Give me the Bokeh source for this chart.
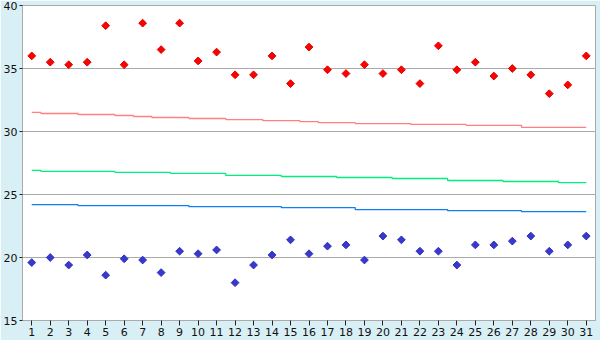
import math
from bokeh.plotting import figure
from bokeh.models import Range1d, FixedTicker
from bokeh.embed import file_html
from bokeh.resources import INLINE

days = list(range(1, 32))
day_labels = [str(d) for d in days]

high_obs = [36.0, 35.5, 35.3, 35.5, 38.4, 35.3, 38.6, 36.5, 38.6, 35.6,
            36.3, 34.5, 34.5, 36.0, 33.8, 36.7, 34.9, 34.6, 35.3, 34.6,
            34.9, 33.8, 36.8, 34.9, 35.5, 34.4, 35.0, 34.5, 33.0, 33.7, 36.0]
low_obs = [19.6, 20.0, 19.4, 20.2, 18.6, 19.9, 19.8, 18.8, 20.5, 20.3,
           20.6, 18.0, 19.4, 20.2, 21.4, 20.3, 20.9, 21.0, 19.8, 21.7,
           21.4, 20.5, 20.5, 19.4, 21.0, 21.0, 21.3, 21.7, 20.5, 21.0, 21.7]
high_normal = [31.51, 31.43, 31.43, 31.35, 31.35, 31.27, 31.19, 31.11, 31.11, 31.03,
               31.03, 30.95, 30.95, 30.87, 30.87, 30.79, 30.71, 30.71, 30.63, 30.63,
               30.63, 30.56, 30.56, 30.56, 30.48, 30.48, 30.48, 30.32, 30.32, 30.32, 30.32]
mean_normal = [26.91, 26.83, 26.83, 26.83, 26.83, 26.75, 26.75, 26.75, 26.67, 26.67,
               26.67, 26.51, 26.51, 26.51, 26.43, 26.43, 26.43, 26.35, 26.35, 26.35,
               26.27, 26.27, 26.27, 26.11, 26.11, 26.11, 26.03, 26.03, 26.03, 25.95, 25.95]
low_normal = [24.20, 24.20, 24.20, 24.12, 24.12, 24.12, 24.12, 24.12, 24.12, 24.04,
              24.04, 24.04, 24.04, 24.04, 23.96, 23.96, 23.96, 23.96, 23.80, 23.80,
              23.80, 23.80, 23.80, 23.72, 23.72, 23.72, 23.72, 23.64, 23.64, 23.64, 23.64]
y_ticks = [15, 20, 25, 30, 35, 40]

BG = "#d9eff6"
GRID = "#aaaaaa"

p = figure(width=600, height=340, output_backend="svg", toolbar_location=None,
           x_range=Range1d(0.5, 31.5), y_range=Range1d(15, 40),
           min_border_left=20, min_border_right=5, min_border_top=5, min_border_bottom=20)
p.border_fill_color = BG
p.background_fill_color = "white"
p.outline_line_color = GRID
p.outline_line_width = 1

p.xgrid.visible = False
p.ygrid.grid_line_color = GRID
p.ygrid.grid_line_width = 1
p.ygrid.ticker = FixedTicker(ticks=y_ticks)

p.xaxis.ticker = FixedTicker(ticks=days)
p.xaxis.major_label_overrides = {d: s for d, s in zip(days, day_labels)}
p.yaxis.ticker = FixedTicker(ticks=y_ticks)
for ax in (p.xaxis[0], p.yaxis[0]):
    ax.axis_line_color = GRID
    ax.major_tick_line_color = "#222222"
    ax.minor_tick_line_color = None
    ax.major_tick_in = 0
    ax.major_label_text_font = "DejaVu Sans"
    ax.major_label_text_font_size = "11px"
    ax.major_label_text_color = "#111111"
    ax.major_label_standoff = 2
p.xaxis.major_tick_out = 5
p.yaxis.major_tick_out = 3

p.step(days, high_normal, mode="center", line_color="#ff8080", line_width=1.3)
p.step(days, mean_normal, mode="center", line_color="#00f080", line_width=1.3)
p.step(days, low_normal, mode="center", line_color="#1080f0", line_width=1.3)

p.scatter(days, high_obs, marker="square", angle=math.pi / 4, size=5.5,
          fill_color="#ff0000", line_color="#e00000", line_width=1)
p.scatter(days, low_obs, marker="square", angle=math.pi / 4, size=5.5,
          fill_color="#3838cc", line_color="#3030c0", line_width=1)

open("out.html", "w").write(file_html(p, INLINE))
